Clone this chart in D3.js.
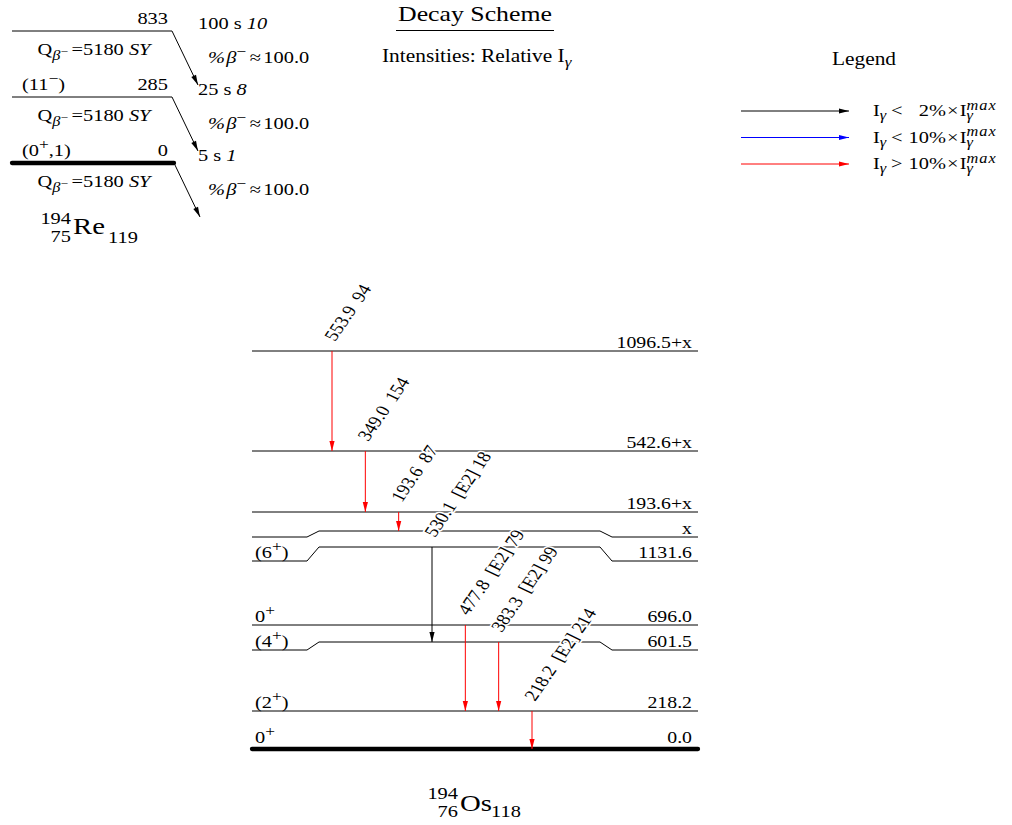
<!DOCTYPE html>
<html>
<head>
<meta charset="utf-8">
<script src="https://cdn.jsdelivr.net/npm/d3@7"></script>
<style>
  body { margin: 0; background: #fff; }
  svg { display: block; }
  text { font-family: "Liberation Serif", "Times New Roman", serif; fill: #000; }
</style>
</head>
<body>
<svg id="chart" width="1012" height="825"></svg>
<script>
// parent 194Re
const parentLevels = ["833", "285", "0"];
const parentSpins = ["", "(11^−)", "(0^+,1)"];
const parentHalfLives = ["100 s", "25 s", "5 s"];
const halfLifeUnc = ["10", "8", "1"];
const qBeta = "5180";
const qUnc = "SY";
const branching = "100.0";

// daughter 194Os levels (top to bottom as drawn)
const levels = ["1096.5+x", "542.6+x", "193.6+x", "x", "1131.6", "696.0", "601.5", "218.2", "0.0"];
const spins = ["", "", "", "", "(6^+)", "0^+", "(4^+)", "(2^+)", "0^+"];

// gammas
const gammaE = ["553.9", "349.0", "193.6", "530.1", "477.8", "383.3", "218.2"];
const gammaMult = ["", "", "", "[E2]", "[E2]", "[E2]", "[E2]"];
const gammaI = ["94", "154", "87", "18", "79", "99", "214"];
const gammaFrom = ["1096.5+x", "542.6+x", "193.6+x", "1131.6", "696.0", "601.5", "218.2"];
const gammaTo = ["542.6+x", "193.6+x", "x", "601.5", "218.2", "218.2", "0.0"];
const gammaClass = ["high", "high", "high", "low", "high", "high", "high"];

// legend
const legendClass = ["low", "mid", "high"];
const legendOp = ["<", "<", ">"];
const legendPct = ["2%", "10%", "10%"];

const svg = d3.select("#chart");
const SX = 1.2, FS = 17, FE = 16.5;

const color = d3.scaleOrdinal().domain(["low", "mid", "high"]).range(["#000", "#0000ff", "#ff0000"]);

function parse(s) {
  const out = [];
  s.split(/(\^.)/).forEach(seg => {
    if (!seg) return;
    if (seg[0] === "^") out.push({t: seg[1], dy: -0.42, s: 0.85});
    else out.push({t: seg});
  });
  return out;
}

function rich(g, parts, x, y, o = {}) {
  const size = o.size || FS;
  const t = g.append("text")
    .attr("font-size", size)
    .attr("text-anchor", o.anchor || "start")
    .attr("transform", `translate(${x},${y}) scale(${SX},1)` + (o.rot ? ` rotate(${o.rot})` : ""));
  if (o.halo) t.attr("stroke", "#fff").attr("stroke-width", 3).attr("paint-order", "stroke").attr("stroke-linejoin", "round");
  let cur = 0, prev = null;
  (typeof parts === "string" ? parse(parts) : parts).forEach(p => {
    const shift = (p.dy || 0) * size;
    const ts = t.append("tspan").text(p.t).attr("dy", shift - cur);
    cur = shift;
    if (p.s) ts.attr("font-size", p.s * size);
    if (p.it) ts.attr("font-style", "italic");
    if (p.ls) ts.attr("letter-spacing", p.ls);
    let dx = p.dx || 0;
    if (p.back && prev) dx -= prev.node().getComputedTextLength();
    if (dx) ts.attr("dx", dx);
    prev = ts;
  });
  return t;
}

function arrow(g, x1, y1, x2, y2, c, w = 1) {
  g.append("line").attr("x1", x1).attr("y1", y1).attr("x2", x2).attr("y2", y2)
    .attr("stroke", c).attr("stroke-width", w);
  const a = Math.atan2(y2 - y1, x2 - x1), L = 10, H = 2.6;
  const bx = x2 - L * Math.cos(a), by = y2 - L * Math.sin(a);
  const px = -Math.sin(a) * H, py = Math.cos(a) * H;
  g.append("path").attr("d", `M${x2},${y2}L${bx + px},${by + py}L${bx - px},${by - py}Z`).attr("fill", c);
}

// ---------- title ----------
const head = svg.append("g");
rich(head, "Decay Scheme", 475, 21, {size: 21.5, anchor: "middle"});
head.append("line").attr("x1", 396).attr("x2", 554).attr("y1", 30.5).attr("y2", 30.5).attr("stroke", "#000");
rich(head, [{t: "Intensities: Relative I"}, {t: "γ", dy: 0.28, s: 0.8, it: true}], 382, 62, {size: 17.8});

// ---------- legend ----------
const leg = svg.append("g");
rich(leg, "Legend", 864, 65, {anchor: "middle", size: 17.8});
const legY = d3.scalePoint().domain(legendClass).range([111, 164]);
legendClass.forEach((c, i) => {
  const y = legY(c);
  arrow(leg, 741, y, 849, y, color(c));
  rich(leg, [
    {t: "I"}, {t: "γ", dy: 0.25, s: 0.8, it: true},
    {t: legendOp[i], dy: 0, dx: 4},
    {t: legendPct[i], dx: legendPct[i].length < 3 ? 5 + FS * 0.5 : 5},
    {t: "×", dx: 1}, {t: "I", dx: 1},
    {t: "γ", dy: 0.25, s: 0.8, it: true}, {t: "max", dy: -0.38, s: 0.8, it: true, ls: 0.8, back: true}
  ], 873, y + 5);
});

// ---------- parent ----------
const par = svg.append("g");
const pY = d3.scalePoint().domain(parentLevels).range([31, 163]);
parentLevels.forEach((l, i) => {
  const y = pY(l), ground = l === "0";
  par.append("line").attr("x1", 12).attr("x2", ground ? 174 : 172).attr("y1", y).attr("y2", y)
    .attr("stroke", "#000").attr("stroke-width", ground ? 4.3 : 1).attr("stroke-linecap", ground ? "round" : "butt");
  rich(par, l, 168, y - 7, {anchor: "end"});
  if (parentSpins[i]) rich(par, parentSpins[i], 22, y - 7);
  arrow(par, ground ? 174 : 172, y, ground ? 200 : 198, y + 54, "#000");
  rich(par, [{t: parentHalfLives[i] + " "}, {t: halfLifeUnc[i], it: true}], 198, y - 2);
  rich(par, [{t: "Q"}, {t: "β", dy: 0.3, s: 0.8, it: true}, {t: "−", dy: 0.02, s: 0.65},
    {t: "=" + qBeta + " ", dy: 0, dx: 3}, {t: qUnc, it: true}], 94, y + 24, {anchor: "middle"});
  rich(par, [{t: "%", it: true}, {t: "β", it: true, dx: 1}, {t: "−", dy: -0.42, s: 0.85},
    {t: "≈", dy: 0, dx: 3}, {t: branching, dx: 2}], 208, y + 32);
});
rich(par, "Re", 73, 234, {size: 24});
rich(par, "194", 71, 224, {anchor: "end"});
rich(par, "75", 71, 242, {anchor: "end"});
rich(par, "119", 108, 243);

// ---------- daughter levels ----------
const lev = svg.append("g");
const levelY = d3.scaleOrdinal().domain(levels).range([351, 451, 512, 531, 547, 625, 642, 711, 749]);
const levelYEnd = d3.scaleOrdinal().domain(levels).range([351, 451, 512, 537, 561, 625, 650, 711, 749]);
const X0 = 252, X1 = 698, J0 = 307, J1 = 319, J2 = 600, J3 = 612;
const line = d3.line();

levels.forEach((l, i) => {
  const ym = levelY(l), ye = levelYEnd(l), ground = l === "0.0";
  lev.append("path")
    .attr("d", line([[X0, ye], [J0, ye], [J1, ym], [J2, ym], [J3, ye], [X1, ye]]))
    .attr("fill", "none").attr("stroke", "#000")
    .attr("stroke-width", ground ? 4.3 : 1).attr("stroke-linecap", ground ? "round" : "butt");
  rich(lev, l, 692, ye - 3 - (ground ? 3 : 0), {anchor: "end", size: FE});
  if (spins[i]) rich(lev, spins[i], 255, ye - 3 - (ground ? 3 : 0));
});

// ---------- gammas ----------
const gam = svg.append("g");
const gX = d3.scalePoint().domain(d3.range(gammaE.length)).range([332, 532]);
gammaE.forEach((e, i) => {
  const x = gX(i), y1 = levelY(gammaFrom[i]);
  const parts = [{t: e}];
  if (gammaMult[i]) parts.push({t: gammaMult[i], dx: 8});
  parts.push({t: gammaI[i], dx: gammaMult[i] ? 4 : 8});
  rich(gam, parts, x + 3, y1 - 9, {rot: -60, halo: true, size: FE});
});
gammaE.forEach((e, i) => {
  const x = gX(i), y1 = levelY(gammaFrom[i]), y2 = levelY(gammaTo[i]);
  arrow(gam, x, y1, x, y2, color(gammaClass[i]));
});

// daughter nuclide
rich(lev, "Os", 460, 811, {size: 24});
rich(lev, "194", 458, 799, {anchor: "end"});
rich(lev, "76", 458, 817, {anchor: "end"});
rich(lev, "118", 491, 817);
</script>
</body>
</html>
